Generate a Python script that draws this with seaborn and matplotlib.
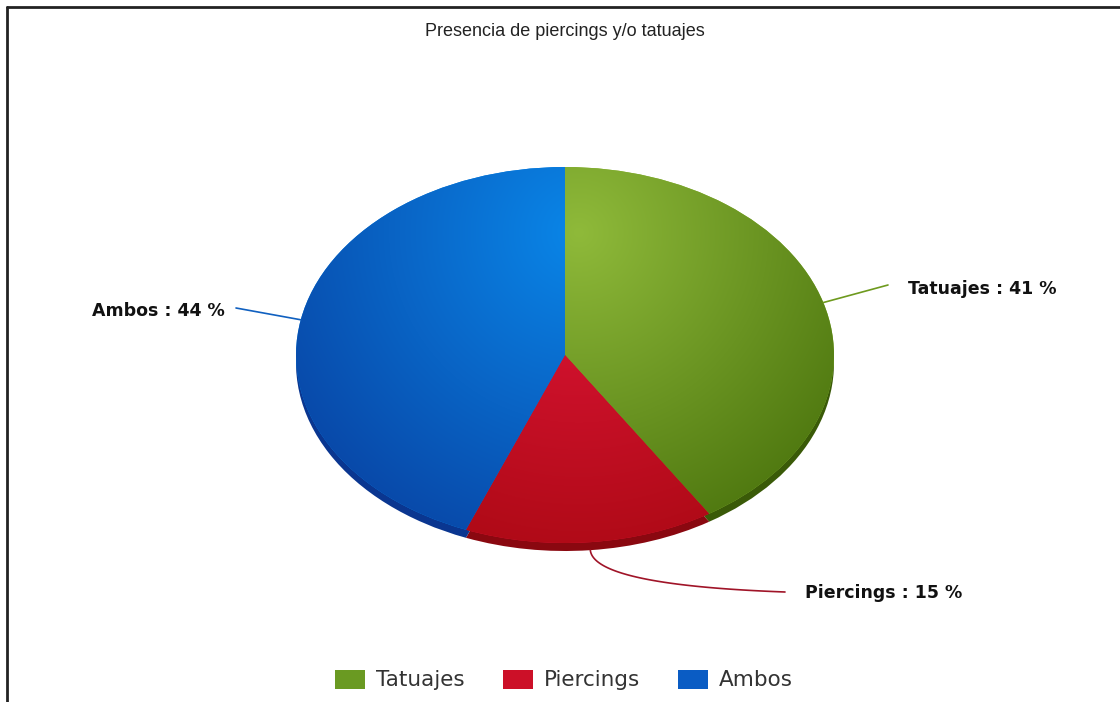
import numpy as np
import matplotlib
matplotlib.use("Agg")
import matplotlib.pyplot as plt
from matplotlib.lines import Line2D
from matplotlib.patches import Patch
from matplotlib.colors import to_rgb
import seaborn as sns

# Data
categories = ["Tatuajes", "Piercings", "Ambos"]
shares = [41, 15, 44]
title_text = "Presencia de piercings y/o tatuajes"

# Styling
top_light = ["#8fba3a", "#e2163a", "#0a86e8"]
top_dark = ["#436c08", "#a60810", "#0840a0"]
side_cols = ["#3a5a08", "#8a0810", "#0a3690"]
legend_cols = ["#6a9a22", "#cc1028", "#0a5cc4"]
line_cols = ["#6e9a1e", "#a01428", "#1060c0"]

sns.set_theme(style="white")
plt.rcParams["font.family"] = ["Liberation Sans", "DejaVu Sans"]

W, H = 1120, 702
fig = plt.figure(figsize=(W / 100, H / 100), dpi=100)
fig.patch.set_facecolor("white")
ax = fig.add_axes([0, 0, 1, 1])

# pie geometry in pixels
cx, cy, rx, ry = 565, 355, 269, 188
depth = 8 / ry

# 3D side: the same pie drawn slightly lower
ax.pie(shares, colors=side_cols, startangle=90, counterclock=False,
       radius=1, center=(0, -depth), wedgeprops=dict(linewidth=0))
wedges, _ = ax.pie(shares, colors=top_light, startangle=90, counterclock=False,
                   radius=1, center=(0, 0), wedgeprops=dict(linewidth=0))

# shaded fill for each slice, clipped to its wedge
xs = np.linspace(-1.05, 1.05, 600)
ys = np.linspace(-1.1, 1.05, 500)
X, Y = np.meshgrid(xs, ys)
lx, ly = 0.05 * rx, 0.65 * ry
D = np.sqrt((X * rx - lx) ** 2 + (Y * ry - ly) ** 2)
T = np.clip(D / 380.0, 0, 1)[..., None]
for w, cl, cd in zip(wedges, top_light, top_dark):
    img = np.array(to_rgb(cl)) * (1 - T) + np.array(to_rgb(cd)) * T
    im = ax.imshow(img, extent=[xs[0], xs[-1], ys[0], ys[-1]], origin="lower",
                   aspect="auto", interpolation="bilinear", zorder=w.get_zorder() + 0.1)
    im.set_clip_path(w)

ax.set_aspect("auto")
ax.set_xlim(-cx / rx, (W - cx) / rx)
ax.set_ylim((cy - H) / ry, cy / ry)
ax.axis("off")


def dx(px):
    return (px - cx) / rx


def dy(py):
    return (cy - py) / ry


# leader lines and value labels
fracs = np.array(shares) / sum(shares)
starts = 90 - 360 * np.concatenate([[0], np.cumsum(fracs)[:-1]])
mids = np.radians(starts - 180 * fracs)
lab_kw = dict(fontsize=12.5, fontweight="bold", color="#111111", va="center",
              family="DejaVu Sans")

# Tatuajes
a = mids[0]
ax.plot([np.cos(a), dx(888)], [np.sin(a), dy(285)], color=line_cols[0], lw=1.2, zorder=5)
ax.text(dx(908), dy(289), "Tatuajes : 41 %", ha="left", **lab_kw)

# Ambos
a = mids[2]
ax.plot([np.cos(a), dx(236)], [np.sin(a), dy(308)], color=line_cols[2], lw=1.2, zorder=5)
ax.text(dx(225), dy(311), "Ambos : 44 %", ha="right", **lab_kw)

# Piercings: curved leader
a = mids[1]
p0 = np.array([np.cos(a), np.sin(a) - depth])
p1 = np.array([dx(594), dy(585)])
p2 = np.array([dx(785), dy(592)])
t = np.linspace(0, 1, 60)[:, None]
curve = (1 - t) ** 2 * p0 + 2 * (1 - t) * t * p1 + t ** 2 * p2
ax.plot(curve[:, 0], curve[:, 1], color=line_cols[1], lw=1.2, zorder=5)
ax.text(dx(805), dy(593), "Piercings : 15 %", ha="left", **lab_kw)

# title
fig.text(565 / W, 1 - 31 / H, title_text, ha="center", va="center",
         fontsize=13, color="#222222")

# legend
handles = [Patch(facecolor=c, edgecolor="none") for c in legend_cols]
fig.legend(handles, categories, loc="center", bbox_to_anchor=(564 / W, 1 - 680 / H),
           ncol=3, frameon=False, prop={"family": "DejaVu Sans", "size": 15.5},
           labelcolor="#333333", handlelength=1.4, handleheight=0.98,
           handletextpad=0.5, columnspacing=1.77)

# frame lines on top and left
fig.add_artist(Line2D([7 / W, 1], [1 - 7 / H, 1 - 7 / H], color="#222222", lw=2))
fig.add_artist(Line2D([7 / W, 7 / W], [0, 1 - 7 / H], color="#222222", lw=2))

fig.savefig("out.png", dpi=100)
